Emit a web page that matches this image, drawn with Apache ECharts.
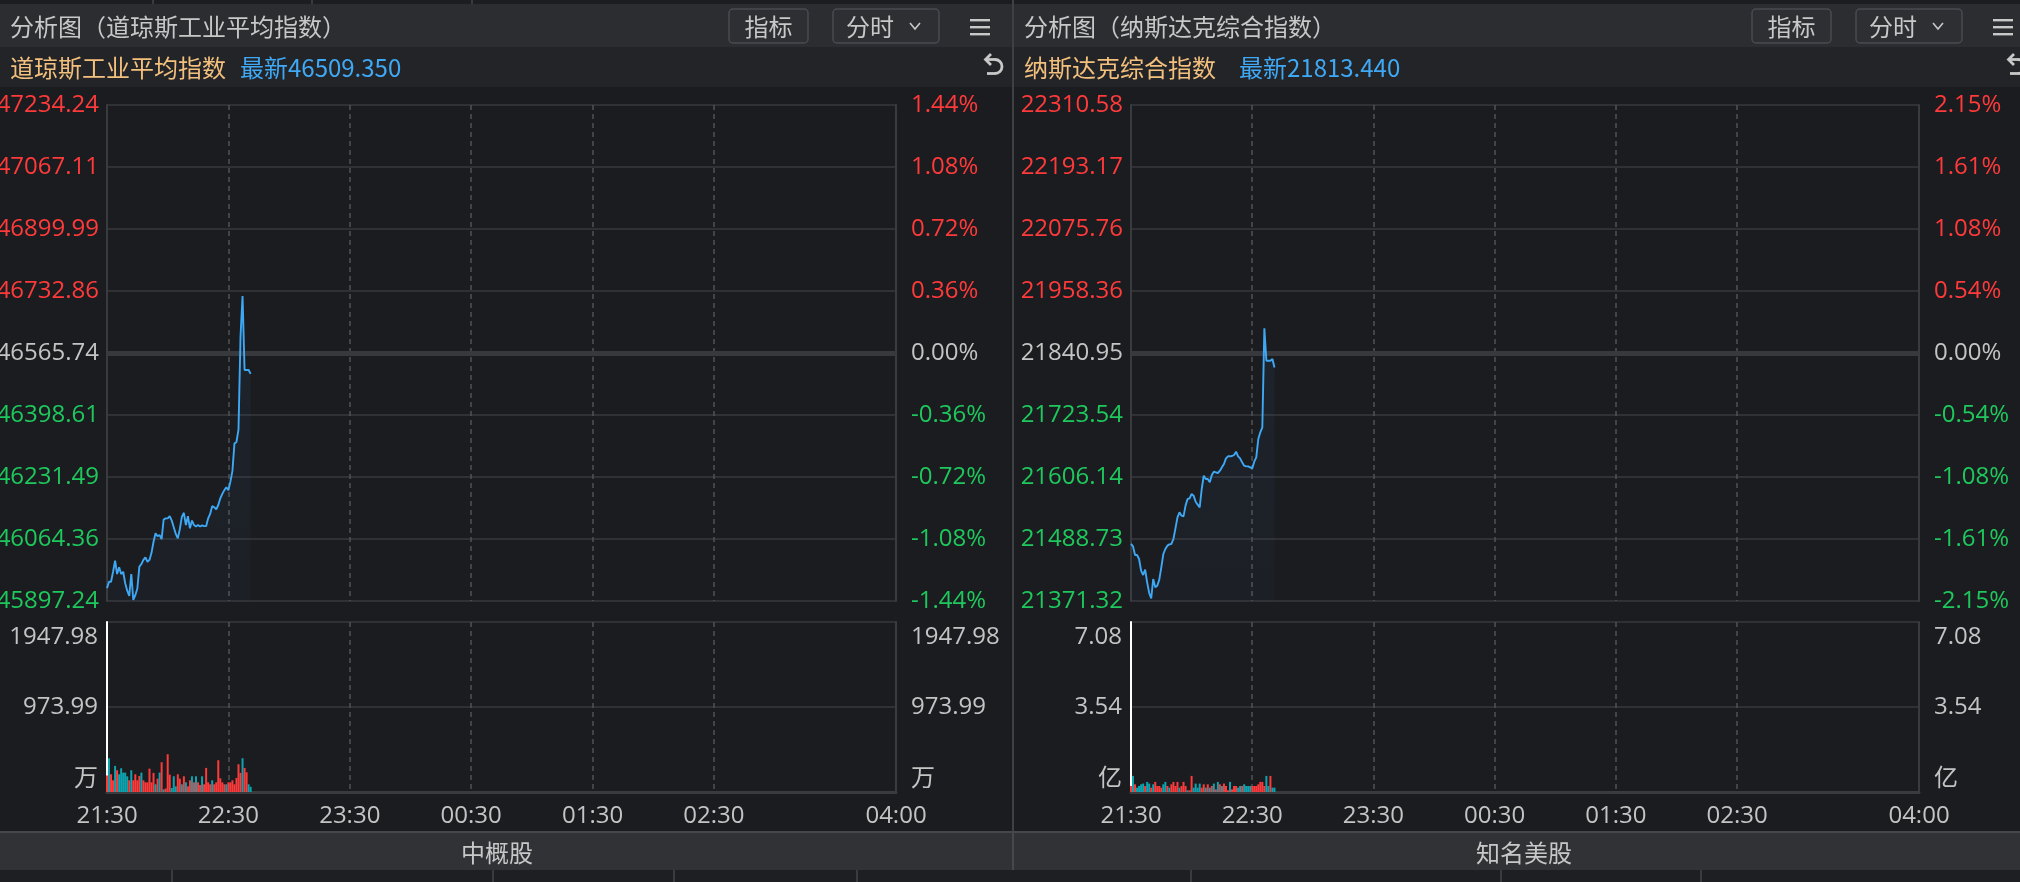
<!DOCTYPE html>
<html><head><meta charset="utf-8">
<script src="https://cdn.jsdelivr.net/npm/echarts@6/dist/echarts.min.js"></script>
<style>html,body{margin:0;padding:0;background:#1b1c20;overflow:hidden}#c{width:2020px;height:882px;}</style>
</head><body><div id="c"></div>
<script>
// ---------- data ----------
const dowName = '道琼斯工业平均指数';
const ndqName = '纳斯达克综合指数';
const dowPreClose = 46565.74;
const ndqPreClose = 21840.95;

const dowPrice = [45932,45949,45949,45976,46006,45970,45988,45970,45976,45945,
  45925,45911,45970,45900,45913,45931,45990,45997,46008,46015,
  46003,46008,46027,46057,46080,46072,46075,46064,46117,46120,
  46120,46126,46114,46096,46078,46066,46091,46124,46135,46102,
  46126,46093,46114,46102,46098,46102,46098,46101,46099,46099,
  46120,46132,46153,46150,46144,46156,46174,46186,46196,46204,
  46196,46219,46248,46322,46326,46360,46610,46719,46520,46520,
  46520,46509.35];

const ndqPrice = [21479.3,21474.8,21458.4,21458.4,21450.8,21428.8,21420.5,21430.6,21406.7,21386.5,
  21376.4,21413.0,21397.2,21400.3,21411.7,21435.1,21460.3,21469.8,21476.1,21478.6,
  21479.3,21488.7,21508.9,21529.8,21539.2,21532.9,21531.6,21551.9,21564.5,21565.7,
  21573.9,21570.8,21559.4,21553.7,21548.7,21583.4,21608.6,21602.3,21602.3,21596.0,
  21609.9,21616.2,21615.0,21613.7,21618.1,21624.4,21630.7,21641.5,21645.3,21645.3,
  21645.9,21647.8,21654.1,21645.3,21641.5,21633.9,21627.6,21626.3,21626.3,21624.4,
  21622.5,21635.2,21643.4,21678.1,21690.7,21700.2,21887.7,21826.4,21826.4,21826.4,
  21829.6,21813.44];

// volume (万) and direction (1 = red/up, 0 = teal/down)
const dowVolume = [188,387,203,134,299,249,203,272,222,222,
  180,134,249,134,203,134,184,222,134,111,
  111,268,111,219,88,153,222,341,30,40,
  433,199,46,180,65,203,153,88,180,111,
  65,134,180,111,180,111,81,180,88,276,
  111,88,134,88,111,364,157,111,88,88,
  111,111,134,88,161,318,219,387,276,226,
  88,60];
const dowVolUp = [1,0,1,1,0,1,0,0,0,0,
  0,1,0,1,1,1,1,0,1,1,
  1,1,1,1,0,1,0,1,0,1,
  1,1,0,0,0,1,1,0,1,0,
  1,1,0,1,0,1,1,0,1,1,
  1,1,0,1,1,1,1,1,1,0,
  1,1,1,1,1,1,1,0,1,1,
  0,0];

// volume (亿)
const ndqVolume = [0.25,0.67,0.32,0.18,0.25,0.32,0.35,0.25,0.42,0.35,
  0.18,0.32,0.42,0.25,0.25,0.18,0.32,0.42,0.25,0.18,
  0.32,0.42,0.25,0.42,0.18,0.25,0.42,0.25,0.07,0.07,
  0.67,0.18,0.35,0.18,0.35,0.18,0.32,0.18,0.32,0.18,
  0.25,0.35,0.11,0.42,0.32,0.25,0.35,0.25,0.07,0.42,
  0.11,0.25,0.25,0.18,0.25,0.25,0.32,0.25,0.25,0.25,
  0.25,0.25,0.25,0.32,0.42,0.42,0.25,0.67,0.25,0.67,
  0.18,0.18];
const ndqVolUp = [1,0,1,0,0,0,0,1,0,0,
  1,0,1,1,1,1,0,0,1,0,
  1,1,1,1,0,1,1,1,0,1,
  1,0,0,0,0,1,1,0,1,0,
  1,0,1,0,1,0,1,1,1,0,
  1,1,1,0,0,1,0,0,0,0,
  1,1,1,1,1,1,1,0,0,1,
  0,0];

const dowPriceTicks = ['45897.24','46064.36','46231.49','46398.61','46565.74','46732.86','46899.99','47067.11','47234.24'];
const dowPctTicks   = ['-1.44%','-1.08%','-0.72%','-0.36%','0.00%','0.36%','0.72%','1.08%','1.44%'];
const ndqPriceTicks = ['21371.32','21488.73','21606.14','21723.54','21840.95','21958.36','22075.76','22193.17','22310.58'];
const ndqPctTicks   = ['-2.15%','-1.61%','-1.08%','-0.54%','0.00%','0.54%','1.08%','1.61%','2.15%'];
const dowVolTicks = ['万','973.99','1947.98'];
const ndqVolTicks = ['亿','3.54','7.08'];
const timeTickLabels = ['21:30','22:30','23:30','00:30','01:30','02:30','04:00'];
const sessionStart = '21:30';
const sessionEnd = '04:00';

// ---------- build ----------
function toMin(s){const [h,m]=s.split(':').map(Number);return h*60+m;}
const startMin = toMin(sessionStart);
let endMin = toMin(sessionEnd); if (endMin < startMin) endMin += 1440;
const minutes = [];
for (let t = startMin; t <= endMin; t++) {
  const mm = t % 1440;
  minutes.push(String(Math.floor(mm/60)).padStart(2,'0') + ':' + String(mm%60).padStart(2,'0'));
}

const RED = '#ff3a3a', GREEN = '#1ec85c', GRAY = '#c4c4c4', TEAL = '#0da4b0';
const LINE_BLUE = '#3ea8f4';
const GRID_C = '#37383c';
const FONT = '"Open Sans","Noto Sans CJK SC",sans-serif';
const CJK = '"Noto Sans CJK SC","Open Sans",sans-serif';

const chart = echarts.init(document.getElementById('c'), null, {renderer:'canvas'});

function panelConf(idx, L, W, pre, prices, vols, ups, priceTicks, pctTicks, volTicks) {
  const top = parseFloat(priceTicks[priceTicks.length-1]);
  const step = (top - pre) / 4;
  const volMax = parseFloat(volTicks[2]);
  const gMain = {left: L, top: 105, width: W, height: 496, containLabel: false, outerBoundsMode: 'none'};
  const gVol = {left: L, top: 622, width: W, height: 170, containLabel: false, outerBoundsMode: 'none'};
  const splitDash = {show: true, interval: (i) => i > 0 && i < 360 && i % 60 === 0,
    lineStyle: {color: '#505156', width: 1.5, type: [5, 4]}};
  const xMain = {type: 'category', gridIndex: idx*2, data: minutes, boundaryGap: false,
    axisLine: {show: false}, axisTick: {show: false}, axisLabel: {show: false}, splitLine: splitDash};
  const xVol = {type: 'category', gridIndex: idx*2+1, data: minutes, boundaryGap: false,
    axisLine: {show: true, onZero: false, lineStyle: {color: '#3a3b3f', width: 3}},
    axisTick: {show: false},
    axisLabel: {show: true, interval: (i, v) => timeTickLabels.indexOf(v) >= 0,
      color: GRAY, fontSize: 24, fontFamily: FONT, margin: 12},
    splitLine: splitDash};
  const kOf = v => Math.round(v / step) + 4;
  const richPrice = {
    u: {color: RED, fontSize: 24, fontFamily: FONT},
    d: {color: GREEN, fontSize: 24, fontFamily: FONT},
    z: {color: GRAY, fontSize: 24, fontFamily: FONT}
  };
  const keyOf = k => k > 4 ? 'u' : (k < 4 ? 'd' : 'z');
  const yMainL = {type: 'value', gridIndex: idx*2, position: 'left', min: -4*step, max: 4*step, interval: step,
    axisLine: {show: true, lineStyle: {color: '#3a3b3f', width: 2}}, axisTick: {show: false},
    splitLine: {show: true, lineStyle: {color: GRID_C, width: 1.5}},
    axisLabel: {margin: 8, formatter: v => {const k = kOf(v); return '{' + keyOf(k) + '|' + priceTicks[k] + '}';}, rich: richPrice}};
  const yMainR = {type: 'value', gridIndex: idx*2, position: 'right', min: -4*step, max: 4*step, interval: step,
    axisLine: {show: true, lineStyle: {color: '#3a3b3f', width: 2}}, axisTick: {show: false}, splitLine: {show: false},
    axisLabel: {margin: 15, formatter: v => {const k = kOf(v); return '{' + keyOf(k) + '|' + pctTicks[k] + '}';}, rich: richPrice}};
  const vk = v => Math.round(v / (volMax/2));
  const richVol = {
    t: {color: GRAY, fontSize: 24, fontFamily: FONT, padding: [30,0,0,0]},
    m: {color: GRAY, fontSize: 24, fontFamily: FONT},
    b: {color: GRAY, fontSize: 24, fontFamily: CJK, padding: [0,0,30,0]}
  };
  const volFmt = v => {const k = vk(v); return '{' + (k === 2 ? 't' : k === 1 ? 'm' : 'b') + '|' + volTicks[k] + '}';};
  const yVolL = {type: 'value', gridIndex: idx*2+1, position: 'left', min: 0, max: volMax, interval: volMax/2,
    axisLine: {show: true, lineStyle: {color: '#ffffff', width: 2}}, axisTick: {show: false},
    splitLine: {show: true, lineStyle: {color: GRID_C, width: 1.5}},
    axisLabel: {margin: 9, formatter: volFmt, rich: richVol}};
  const yVolR = {type: 'value', gridIndex: idx*2+1, position: 'right', min: 0, max: volMax, interval: volMax/2,
    axisLine: {show: true, lineStyle: {color: '#3a3b3f', width: 2}}, axisTick: {show: false}, splitLine: {show: false},
    axisLabel: {margin: 15, formatter: volFmt, rich: richVol}};
  const series = [
    {type: 'line', xAxisIndex: idx*2, yAxisIndex: idx*4, data: prices.map(p => p - pre),
      showSymbol: false, symbol: 'none', smooth: false, z: 5,
      lineStyle: {color: LINE_BLUE, width: 1.9},
      areaStyle: {origin: 'start', color: new echarts.graphic.LinearGradient(0,0,0,1,[
        {offset: 0, color: 'rgba(62,140,220,0.10)'}, {offset: 1, color: 'rgba(62,140,220,0.04)'}])},
      markLine: {silent: true, symbol: 'none', label: {show: false}, animation: false,
        lineStyle: {color: '#38393d', width: 5, type: 'solid'}, data: [{yAxis: 0}]}},
    {type: 'bar', xAxisIndex: idx*2+1, yAxisIndex: idx*4+2, barWidth: 2, barGap: '0%',
      data: vols.map((v, i) => ({value: v, itemStyle: {color: ups[i] ? RED : TEAL}}))}
  ];
  return {grids: [gMain, gVol], xAxes: [xMain, xVol], yAxes: [yMainL, yMainR, yVolL, yVolR], series};
}

const p1 = panelConf(0, 107, 789, dowPreClose, dowPrice, dowVolume, dowVolUp, dowPriceTicks, dowPctTicks, dowVolTicks);
const p2 = panelConf(1, 1131, 788, ndqPreClose, ndqPrice, ndqVolume, ndqVolUp, ndqPriceTicks, ndqPctTicks, ndqVolTicks);

// ---------- UI chrome ----------
function headerGraphics(off, W, name, lastPrice, btnOff, latestX) {
  const g = [];
  g.push({type: 'rect', shape: {x: off, y: 4, width: W, height: 43}, style: {fill: '#2c2d31'}, z: -10});
  g.push({type: 'rect', shape: {x: off, y: 47, width: W, height: 40}, style: {fill: '#232428'}, z: -10});
  g.push({type: 'text', x: off + 10, y: 27, style: {text: '分析图（' + name + '）', fill: '#c8c8c8', font: '24px ' + CJK, verticalAlign: 'middle'}});
  g.push({type: 'rect', shape: {x: btnOff, y: 9, width: 79, height: 34, r: 4}, style: {fill: '#2e2f33', stroke: '#4a4b50', lineWidth: 1.5}});
  g.push({type: 'text', x: btnOff + 39.5, y: 27, style: {text: '指标', fill: '#c8c8c8', font: '24px ' + CJK, align: 'center', verticalAlign: 'middle'}});
  g.push({type: 'rect', shape: {x: btnOff + 104, y: 9, width: 106, height: 34, r: 4}, style: {fill: '#2e2f33', stroke: '#4a4b50', lineWidth: 1.5}});
  g.push({type: 'text', x: btnOff + 117, y: 27, style: {text: '分时', fill: '#c8c8c8', font: '24px ' + CJK, verticalAlign: 'middle'}});
  g.push({type: 'polyline', shape: {points: [[btnOff + 181, 23], [btnOff + 186, 29], [btnOff + 191, 23]]}, style: {stroke: '#c8c8c8', lineWidth: 1.6, fill: null}});
  const hx = btnOff + 241;
  [19, 26, 33].forEach(y => g.push({type: 'rect', shape: {x: hx, y: y, width: 20, height: 2.4}, style: {fill: '#c8c8c8'}}));
  g.push({type: 'text', x: off + 10, y: 68, style: {text: name, fill: '#f3c07e', font: '24px ' + CJK, verticalAlign: 'middle'}});
  g.push({type: 'text', x: latestX, y: 68, style: {text: '最新' + lastPrice.toFixed(3), fill: '#3fa9f5', font: '24px ' + CJK, verticalAlign: 'middle'}});
  const ux = btnOff + 255;
  g.push({type: 'arc', shape: {cx: ux + 11, cy: 66.5, r: 7, startAngle: -Math.PI/2, endAngle: Math.PI/2}, style: {stroke: '#c8c8c8', lineWidth: 2.8, fill: null}});
  g.push({type: 'polyline', shape: {points: [[ux + 2, 59.5], [ux + 11, 59.5]]}, style: {stroke: '#c8c8c8', lineWidth: 2.8}});
  g.push({type: 'polyline', shape: {points: [[ux + 11, 73.5], [ux + 3, 73.5]]}, style: {stroke: '#c8c8c8', lineWidth: 2.8}});
  g.push({type: 'polyline', shape: {points: [[ux + 7, 54], [ux + 1.5, 59.5], [ux + 7, 65]]}, style: {stroke: '#c8c8c8', lineWidth: 2.8, fill: null}});
  return g;
}

const graphics = [
  ...headerGraphics(0, 1012, dowName, dowPrice[dowPrice.length-1], 729, 240),
  ...headerGraphics(1014, 1006, ndqName, ndqPrice[ndqPrice.length-1], 1752, 1239),
  {type: 'rect', shape: {x: 0, y: 0, width: 2020, height: 4}, style: {fill: '#1c1d21'}, z: -10},
  {type: 'rect', shape: {x: 152, y: 0, width: 2, height: 4}, style: {fill: '#3a3b3f'}},
  {type: 'rect', shape: {x: 311, y: 0, width: 2, height: 4}, style: {fill: '#3a3b3f'}},
  {type: 'rect', shape: {x: 471, y: 0, width: 2, height: 4}, style: {fill: '#3a3b3f'}},
  {type: 'rect', shape: {x: 1012, y: 0, width: 2, height: 832}, style: {fill: '#3f4044'}},
  {type: 'rect', shape: {x: 0, y: 832, width: 2020, height: 38}, style: {fill: '#313236'}, z: -10},
  {type: 'rect', shape: {x: 0, y: 831, width: 2020, height: 2}, style: {fill: '#47484c'}},
  {type: 'rect', shape: {x: 1012, y: 832, width: 2, height: 38}, style: {fill: '#47484c'}},
  {type: 'rect', shape: {x: 0, y: 870, width: 2020, height: 12}, style: {fill: '#1e1f23'}, z: -10},
  ...[171, 492, 673, 856, 1190, 1500, 1700].map(x => ({type: 'rect', shape: {x: x, y: 870, width: 2, height: 12}, style: {fill: '#3a3b3f'}})),
  {type: 'text', x: 497, y: 853, style: {text: '中概股', fill: '#c8c8c8', font: '24px ' + CJK, align: 'center', verticalAlign: 'middle'}},
  {type: 'text', x: 1524, y: 853, style: {text: '知名美股', fill: '#c8c8c8', font: '24px ' + CJK, align: 'center', verticalAlign: 'middle'}}
];

chart.setOption({
  backgroundColor: '#1b1c20',
  animation: false,
  textStyle: {fontFamily: FONT},
  grid: [...p1.grids, ...p2.grids],
  xAxis: [...p1.xAxes, ...p2.xAxes],
  yAxis: [...p1.yAxes, ...p2.yAxes],
  series: [...p1.series, ...p2.series],
  graphic: graphics
});
</script></body></html>
